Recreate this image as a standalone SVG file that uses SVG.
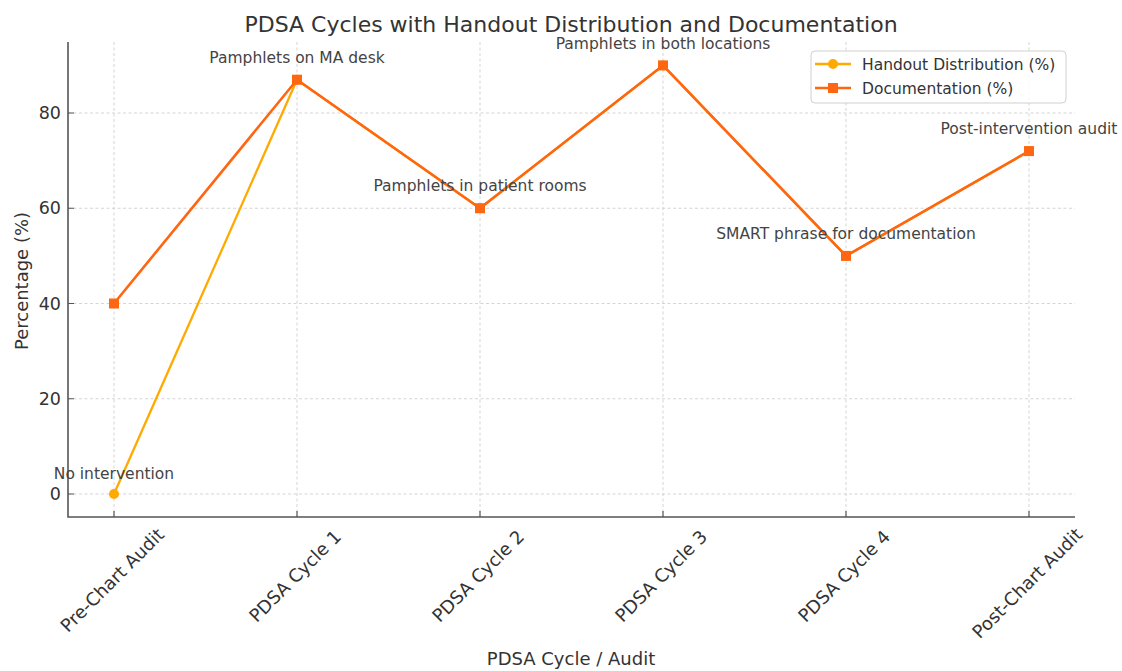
<svg xmlns="http://www.w3.org/2000/svg" width="1122" height="671" viewBox="0 0 1122 671">
<style>
text{font-family:"DejaVu Sans","Liberation Sans",sans-serif;fill:#333}
.tick{font-size:17.5px}
.xt{font-size:18px}
.ann{font-size:15.5px;fill:#444;text-anchor:middle}
.grid{stroke:#d0d0d0;stroke-width:0.9;stroke-dasharray:3,2.5;fill:none}
.spine{stroke:#555;stroke-width:1.6;fill:none}
.tk{stroke:#555;stroke-width:1.2}
.hand{stroke:#FFAA00;stroke-width:2.3;fill:none;stroke-linejoin:round}
.doc{stroke:#FF6611;stroke-width:2.6;fill:none;stroke-linejoin:round}
.hm{fill:#FFAA00}
.dm{fill:#FF6611}
</style>
<rect width="1122" height="671" fill="#fff"/>
<g id="grid">
<path class="grid" d="M114,42V517M297,42V517M480,42V517M663,42V517M846,42V517M1029,42V517"/>
<path class="grid" d="M68,494H1075M68,398.75H1075M68,303.5H1075M68,208.25H1075M68,113H1075"/>
</g>
<g id="axes">
<path class="spine" d="M68,42V517H1075"/>
<path class="tk" d="M114,517v-6M297,517v-6M480,517v-6M663,517v-6M846,517v-6M1029,517v-6M68,494h6M68,398.75h6M68,303.5h6M68,208.25h6M68,113h6"/>
<g class="tick" text-anchor="end">
<text x="61" y="500">0</text>
<text x="61" y="404.75">20</text>
<text x="61" y="309.5">40</text>
<text x="61" y="214.25">60</text>
<text x="61" y="119">80</text>
</g>
<g class="xt" text-anchor="middle" dominant-baseline="central">
<text x="112" y="580" transform="rotate(-45 112 580)">Pre-Chart Audit</text>
<text x="295" y="576" transform="rotate(-45 295 576)">PDSA Cycle 1</text>
<text x="478" y="576" transform="rotate(-45 478 576)">PDSA Cycle 2</text>
<text x="661" y="576" transform="rotate(-45 661 576)">PDSA Cycle 3</text>
<text x="844" y="576" transform="rotate(-45 844 576)">PDSA Cycle 4</text>
<text x="1027" y="583" transform="rotate(-45 1027 583)">Post-Chart Audit</text>
</g>
<text x="571" y="665" font-size="18" text-anchor="middle">PDSA Cycle / Audit</text>
<text x="0" y="0" font-size="18" text-anchor="middle" transform="translate(28,281) rotate(-90)">Percentage (%)</text>
<text x="571" y="32" font-size="22" text-anchor="middle">PDSA Cycles with Handout Distribution and Documentation</text>
</g>
<g id="connectors">
<polyline class="hand" points="114,494 297,79.7 480,208.25 663,65.4 846,255.9 1029,151.1"/>
<g class="hm">
<circle cx="114" cy="494" r="5"/><circle cx="297" cy="79.7" r="5"/><circle cx="480" cy="208.25" r="5"/><circle cx="663" cy="65.4" r="5"/><circle cx="846" cy="255.9" r="5"/><circle cx="1029" cy="151.1" r="5"/>
</g>
<polyline class="doc" points="114,303.5 297,79.7 480,208.25 663,65.4 846,255.9 1029,151.1"/>
<g class="dm">
<rect x="109" y="298.5" width="10" height="10"/><rect x="292" y="74.7" width="10" height="10"/><rect x="475" y="203.25" width="10" height="10"/><rect x="658" y="60.4" width="10" height="10"/><rect x="841" y="250.9" width="10" height="10"/><rect x="1024" y="146.1" width="10" height="10"/>
</g>
</g>
<g id="annotations">
<text class="ann" x="114" y="479">No intervention</text>
<text class="ann" x="297" y="63">Pamphlets on MA desk</text>
<text class="ann" x="480" y="191">Pamphlets in patient rooms</text>
<text class="ann" x="663" y="49">Pamphlets in both locations</text>
<text class="ann" x="846" y="239">SMART phrase for documentation</text>
<text class="ann" x="1029" y="134">Post-intervention audit</text>
</g>
<g id="legend">
<rect x="811" y="51" width="255" height="52" rx="4" fill="#fff" fill-opacity="0.85" stroke="#d0d0d0" stroke-width="1"/>
<path class="hand" d="M815,64H851"/>
<circle class="hm" cx="833" cy="64" r="5"/>
<path class="doc" d="M815,88H851"/>
<rect class="dm" x="828" y="83" width="10" height="10"/>
<text x="862" y="69.5" font-size="15.5">Handout Distribution (%)</text>
<text x="862" y="93.5" font-size="15.5">Documentation (%)</text>
</g>
</svg>
